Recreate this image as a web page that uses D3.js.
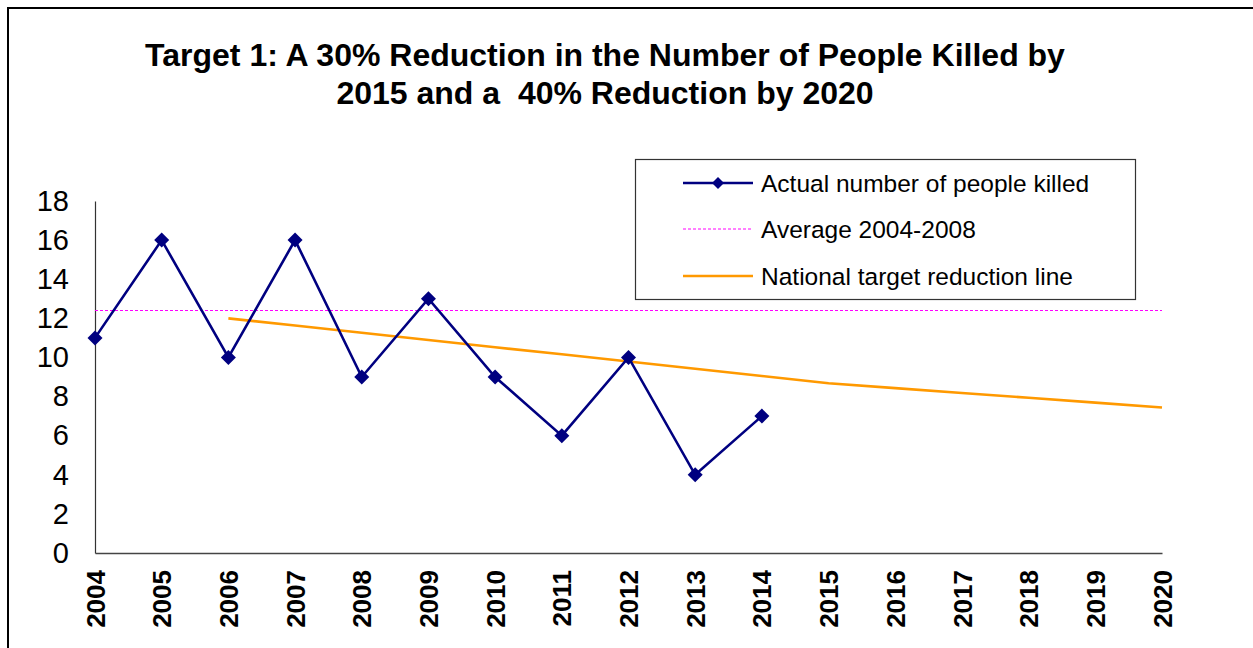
<!DOCTYPE html>
<html>
<head>
<meta charset="utf-8">
<script src="https://cdn.jsdelivr.net/npm/d3@7"></script>
<style>
  html, body { margin: 0; padding: 0; background: #fff; }
  svg { display: block; font-family: Arial, "Liberation Sans", sans-serif; }
</style>
</head>
<body>
<svg id="chart" width="1253" height="648"></svg>
<script>
// Years shown along the horizontal axis
const years = ["2004","2005","2006","2007","2008","2009","2010","2011","2012","2013","2014","2015","2016","2017","2018","2019","2020"];

// Actual number of people killed, 2004-2014
const actualYears = ["2004","2005","2006","2007","2008","2009","2010","2011","2012","2013","2014"];
const actualKilled = [11, 16, 10, 16, 9, 13, 9, 6, 10, 4, 7];

// Average of the 2004-2008 baseline
const average2004to2008 = 12.4;

// National target reduction line, 2006-2020
const targetYears = ["2006","2007","2008","2009","2010","2011","2012","2013","2014","2015","2016","2017","2018","2019","2020"];
const targetValues = [12.0, 11.63, 11.26, 10.89, 10.52, 10.16, 9.79, 9.42, 9.05, 8.68, 8.43, 8.18, 7.94, 7.69, 7.44];

const yTicks = [0, 2, 4, 6, 8, 10, 12, 14, 16, 18];

const titleLines = ["Target 1: A 30% Reduction in the Number of People Killed by", "2015 and a  40% Reduction by 2020"];
const legendLabels = ["Actual number of people killed", "Average 2004-2008", "National target reduction line"];

const colors = { actual: "#000080", average: "#FF00FF", target: "#FF9900" };

const svg = d3.select("#chart");

// outer chart frame
svg.append("path")
  .attr("d", "M8,660 L8,8 L1270,8")
  .attr("fill", "none").attr("stroke", "#000").attr("stroke-width", 2);

const plot = { left: 95, right: 1162, top: 201, bottom: 553 };

const x = d3.scalePoint().domain(years).range([plot.left, plot.right]).padding(0);
const y = d3.scaleLinear().domain([0, 18]).range([plot.bottom, plot.top]);

// title
svg.append("g").selectAll("text").data(titleLines).join("text")
  .attr("x", 605).attr("y", (d, i) => 66 + i * 38)
  .attr("text-anchor", "middle")
  .attr("font-weight", "bold").attr("font-size", 32)
  .attr("fill", "#000")
  .style("white-space", "pre")
  .text(d => d);

// y axis
const yAxis = svg.append("g")
  .attr("transform", `translate(${plot.left},0)`)
  .call(d3.axisLeft(y).tickValues(yTicks).tickSize(0).tickPadding(26));
yAxis.select(".domain").attr("stroke", "#333").attr("stroke-width", 1.2);
yAxis.selectAll("text").attr("font-size", 29).attr("font-family", "Arial, 'Liberation Sans', sans-serif").attr("fill", "#000");

// x axis
const xAxis = svg.append("g")
  .attr("transform", `translate(0,${plot.bottom})`)
  .call(d3.axisBottom(x).tickSize(0).tickPadding(0));
xAxis.select(".domain").attr("stroke", "#444").attr("stroke-width", 1.5);
xAxis.selectAll("text")
  .attr("font-size", 26).attr("font-weight", "bold")
  .attr("font-family", "Arial, 'Liberation Sans', sans-serif")
  .attr("fill", "#000")
  .attr("text-anchor", "end")
  .attr("transform", "rotate(-90)")
  .attr("x", -17).attr("y", 0).attr("dy", "0.35em");

// average line
svg.append("line")
  .attr("x1", plot.left).attr("x2", plot.right)
  .attr("y1", y(average2004to2008)).attr("y2", y(average2004to2008))
  .attr("stroke", colors.average).attr("stroke-width", 1)
  .attr("stroke-dasharray", "3,2");

// target reduction line
svg.append("path")
  .datum(targetYears.map((yr, i) => [yr, targetValues[i]]))
  .attr("fill", "none").attr("stroke", colors.target).attr("stroke-width", 2.6)
  .attr("d", d3.line().x(d => x(d[0])).y(d => y(d[1])));

// actual series
const actualData = actualYears.map((yr, i) => [yr, actualKilled[i]]);
svg.append("path")
  .datum(actualData)
  .attr("fill", "none").attr("stroke", colors.actual).attr("stroke-width", 2.6)
  .attr("d", d3.line().x(d => x(d[0])).y(d => y(d[1])));

const diamond = "M0,-7.5 L7.5,0 L0,7.5 L-7.5,0 Z";
svg.append("g").selectAll("path").data(actualData).join("path")
  .attr("transform", d => `translate(${x(d[0])},${y(d[1])})`)
  .attr("d", diamond).attr("fill", colors.actual);

// legend
const legend = svg.append("g");
legend.append("rect")
  .attr("x", 635.5).attr("y", 159.5).attr("width", 500).attr("height", 140)
  .attr("fill", "#fff").attr("stroke", "#333").attr("stroke-width", 1.2);

const rowY = [183, 229, 276];
const items = legend.selectAll("g.item").data(legendLabels).join("g").attr("class", "item")
  .attr("transform", (d, i) => `translate(0,${rowY[i]})`);

items.append("line")
  .attr("x1", 683).attr("x2", 753).attr("y1", 0).attr("y2", 0)
  .attr("stroke", (d, i) => [colors.actual, colors.average, colors.target][i])
  .attr("stroke-width", (d, i) => [2.6, 1, 2.6][i])
  .attr("stroke-dasharray", (d, i) => i === 1 ? "3,2" : null);

legend.append("path")
  .attr("transform", `translate(718,${rowY[0]})`)
  .attr("d", "M0,-6 L6,0 L0,6 L-6,0 Z").attr("fill", colors.actual);

items.append("text")
  .attr("x", 761).attr("y", 0).attr("dy", "0.35em")
  .attr("font-size", 24.5).attr("fill", "#000")
  .text(d => d);
</script>
</body>
</html>
